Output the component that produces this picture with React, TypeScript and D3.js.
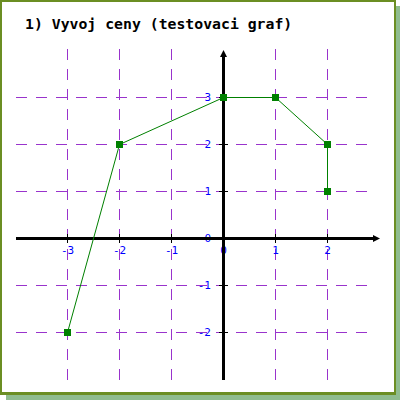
import React from 'react';
import * as d3 from 'd3';

const title = '1) Vyvoj ceny (testovaci graf)';
const xTicks = [-3, -2, -1, 0, 1, 2];
const yTicks = [-2, -1, 0, 1, 2, 3];
const xGrid = [-3, -2, -1, 1, 2];
const yGrid = [-2, -1, 1, 2, 3];
const pointsX = [-3, -2, 0, 1, 2, 2];
const pointsY = [-2, 2, 3, 3, 2, 1];

const App: React.FC = () => {
  const x = d3.scaleLinear().domain([-4, 3]).range([15, 379]);
  const y = d3.scaleLinear().domain([-3, 4]).range([379, 50]);
  const pts: [number, number][] = pointsX.map((v, i) => [v, pointsY[i]]);
  const line = d3.line<[number, number]>()
    .x(d => x(d[0]) + 0.5)
    .y(d => y(d[1]) + 0.5);

  const grid = '#9933cc';
  const ax = x(0) + 0.5;
  const ay = y(0) + 0.5;
  const font = "'DejaVu Sans Mono', monospace";
  const crisp = { shapeRendering: 'crispEdges' as const };

  return (
    <svg width={400} height={400} style={{ position: 'absolute', left: 0, top: 0 }}>
      {/* frame with shadow */}
      <rect x={6} y={6} width={394} height={394} fill="#8fbc8f" {...crisp} />
      <rect x={0} y={0} width={396} height={395} fill="#6b8e23" {...crisp} />
      <rect x={2} y={2} width={392} height={390} fill="#ffffff" {...crisp} />

      <text x={25} y={29} fontFamily={font} fontWeight="bold" fontSize={14.8} fill="#000">
        {title}
      </text>

      {/* grid */}
      {xGrid.map(v => (
        <line key={'gx' + v} x1={x(v) + 0.5} x2={x(v) + 0.5} y1={49} y2={380}
          stroke={grid} strokeWidth={1} strokeDasharray="11 9" {...crisp} />
      ))}
      {yGrid.map(v => (
        <line key={'gy' + v} x1={16} x2={372} y1={y(v) + 0.5} y2={y(v) + 0.5}
          stroke={grid} strokeWidth={1} strokeDasharray="11 9" {...crisp} />
      ))}

      {/* labels */}
      {xTicks.map(v => (
        <text key={'lx' + v} x={x(v) + 0.5} y={254} textAnchor="middle"
          fontFamily={font} fontSize={11} fill="#0000ff">{v < 0 ? '-' + (-v) : v}</text>
      ))}
      {yTicks.map(v => (
        <text key={'ly' + v} x={211} y={y(v) + 0.5} textAnchor="end" dominantBaseline="central"
          fontFamily={font} fontSize={11} fill="#0000ff">{v < 0 ? '-' + (-v) : v}</text>
      ))}

      {/* axes */}
      <line x1={16} x2={376} y1={ay} y2={ay} stroke="#000" strokeWidth={3} {...crisp} />
      <path d={`M${380},${ay} L${373},${ay - 3.5} L${373},${ay + 3.5} Z`} fill="#000" />
      <line x1={ax} x2={ax} y1={380} y2={54} stroke="#000" strokeWidth={3} {...crisp} />
      <path d={`M${ax},${50} L${ax - 3.5},${57} L${ax + 3.5},${57} Z`} fill="#000" />
      {xTicks.map(v => (
        <line key={'tx' + v} x1={x(v) + 0.5} x2={x(v) + 0.5} y1={ay - 4.5} y2={ay + 4.5}
          stroke="#000" strokeWidth={1} {...crisp} />
      ))}
      {yTicks.map(v => (
        <line key={'ty' + v} x1={ax - 4.5} x2={ax + 4.5} y1={y(v) + 0.5} y2={y(v) + 0.5}
          stroke="#000" strokeWidth={1} {...crisp} />
      ))}

      {/* data */}
      <path d={line(pts) || ''} fill="none" stroke="#008000" strokeWidth={1} />
      {pts.map((p, i) => (
        <rect key={'p' + i} x={x(p[0]) - 3} y={y(p[1]) - 3} width={7} height={7}
          fill="#008000" {...crisp} />
      ))}
    </svg>
  );
};

export default App;
